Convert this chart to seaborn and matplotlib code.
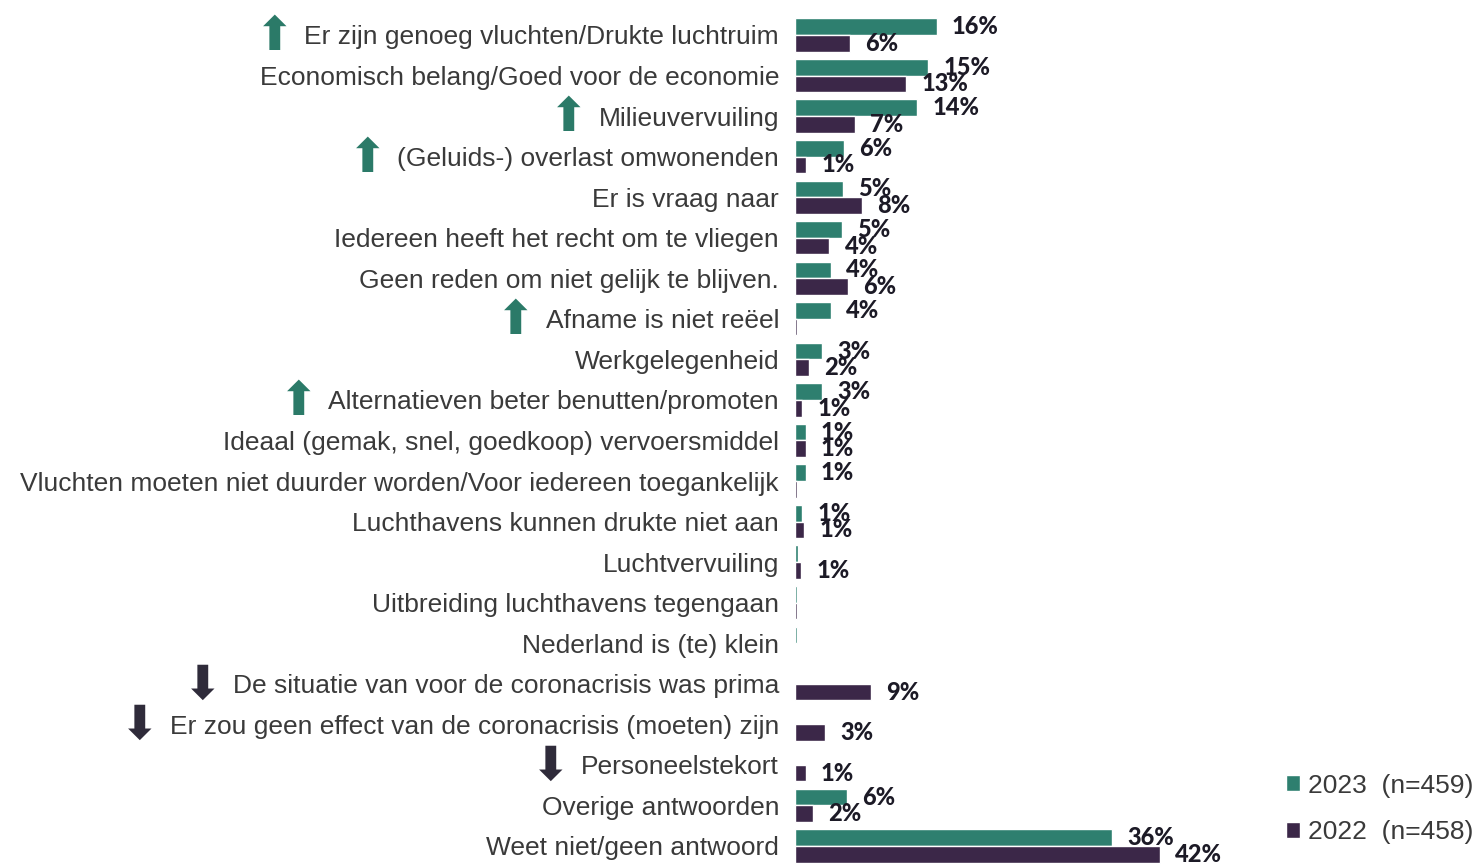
import pandas as pd
import seaborn as sns
import matplotlib.pyplot as plt

categories = [
    "Er zijn genoeg vluchten/Drukte luchtruim",
    "Economisch belang/Goed voor de economie",
    "Milieuvervuiling",
    "(Geluids-) overlast omwonenden",
    "Er is vraag naar",
    "Iedereen heeft het recht om te vliegen",
    "Geen reden om niet gelijk te blijven.",
    "Afname is niet reëel",
    "Werkgelegenheid",
    "Alternatieven beter benutten/promoten",
    "Ideaal (gemak, snel, goedkoop) vervoersmiddel",
    "Vluchten moeten niet duurder worden/Voor iedereen toegankelijk",
    "Luchthavens kunnen drukte niet aan",
    "Luchtvervuiling",
    "Uitbreiding luchthavens tegengaan",
    "Nederland is (te) klein",
    "De situatie van voor de coronacrisis was prima",
    "Er zou geen effect van de coronacrisis (moeten) zijn",
    "Personeelstekort",
    "Overige antwoorden",
    "Weet niet/geen antwoord",
]
share_2023 = [16.1, 15.1, 13.9, 5.6, 5.4, 5.3, 4.1, 4.1, 3.1, 3.1, 1.2, 1.2,
              0.8, 0.35, 0.25, 0.25, None, None, None, 5.9, 36.0]
share_2022 = [6.2, 12.6, 6.8, 1.25, 7.6, 3.9, 6.0, 0.25, 1.6, 0.8, 1.2, 0.25,
              1.0, 0.7, 0.25, None, 8.6, 3.4, 1.2, 2.0, 41.5]
# trend arrow shown before the answer text
arrows = ["up", None, "up", "up", None, None, None, "up", None, "up", None, None,
          None, None, None, None, "down", "down", "down", None, None]
series_labels = ["2023  (n=459)", "2022  (n=458)"]
colors = ["#2e7f6f", "#3b2748"]

df = pd.DataFrame({"antwoord": categories,
                   series_labels[0]: share_2023,
                   series_labels[1]: share_2022})
df = df.melt(id_vars="antwoord", var_name="jaar", value_name="aandeel")

sns.set_style("white")
plt.rcParams["font.family"] = ["Liberation Sans", "DejaVu Sans"]

fig = plt.figure(figsize=(14.76, 8.65), dpi=100)
ax = fig.add_axes([795 / 1476, 0, 1 - 795 / 1476, 1])

sns.barplot(data=df, y="antwoord", x="aandeel", hue="jaar", order=categories,
            hue_order=series_labels, palette=colors, saturation=1, width=0.82,
            errorbar=None, orient="h", ax=ax)

ax.set_xlim(0, 77.4)
ax.set_ylim(20.47, -0.863)
ax.set_xlabel("")
ax.set_ylabel("")
ax.set_xticks([])
sns.despine(ax=ax, left=True, bottom=True)
ax.tick_params(axis="y", length=0, pad=11.5, labelsize=19, labelcolor="#3a3a3a")

for cont in ax.containers:
    ax.bar_label(cont, fmt=lambda v: f"{v:.0f}%" if v >= 0.5 else "",
                 padding=11, fontsize=17, fontweight="black", family="Lato",
                 color="#1c1a26")

ax.legend(loc="lower right", bbox_to_anchor=(1.0, 0.021), frameon=False,
          fontsize=19, labelcolor="#3a3a3a", handlelength=0.55, handleheight=0.55,
          handletextpad=0.3, labelspacing=0.85, borderaxespad=0.1, borderpad=0)

fig.canvas.draw()
for lab, arrow in zip(ax.get_yticklabels(), arrows):
    if arrow is None:
        continue
    glyph = "⬆" if arrow == "up" else "⬇"
    col = "#2b7a68" if arrow == "up" else "#2f2b3a"
    ax.annotate(glyph, xy=(0, 0.5), xycoords=lab, xytext=(-21.6, 0),
                textcoords="offset points", ha="center", va="center",
                fontsize=34, color=col, family="DejaVu Sans")

fig.savefig("out.png", dpi=100)
